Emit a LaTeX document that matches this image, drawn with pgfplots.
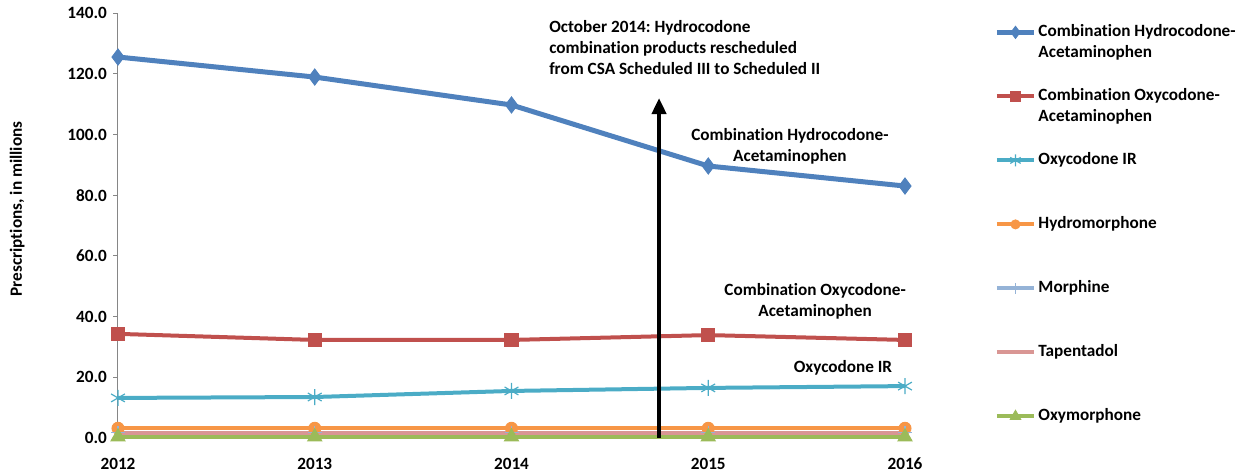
\documentclass[border=0pt]{standalone}
\usepackage{fontspec}
\setmainfont{Carlito}[Ligatures=NoCommon]
\usepackage{pgfplots}
\pgfplotsset{compat=1.18}
\usetikzlibrary{arrows.meta}
\definecolor{cBlue}{HTML}{4F81BD}
\definecolor{cRed}{HTML}{C0504D}
\definecolor{cTeal}{HTML}{4BACC6}
\definecolor{cOrange}{HTML}{F79646}
\definecolor{cMorph}{HTML}{95B3D7}
\definecolor{cTap}{HTML}{D99694}
\definecolor{cGreen}{HTML}{9BBB59}
\definecolor{cAxis}{HTML}{868686}
\newcommand{\legtxt}[1]{\parbox[t]{100pt}{#1}}
\frenchspacing
\begin{document}
\fontsize{8.6}{10.5}\selectfont\bfseries
\begin{tikzpicture}
\useasboundingbox (-59pt,-17pt) rectangle (560.5pt,219pt);
\begin{axis}[
  at={(0,0)}, anchor=south west,
  scale only axis, width=393.5pt, height=212.5pt,
  xmin=2012, xmax=2016, ymin=0, ymax=140,
  xtick={2012,2013,2014,2015,2016},
  xticklabels={2012,2013,2014,2015,2016},
  ytick={0,20,40,60,80,100,120,140},
  axis lines*=left,
  axis line style={cAxis, line width=0.5pt},
  x tick style={draw=none},
  y tick style={cAxis, line width=0.5pt},
  tick align=outside,
  major tick length=2.5pt,
  yticklabel style={/pgf/number format/.cd, fixed, fixed zerofill, precision=1, assume math mode=true},
  xticklabel style={yshift=-4.5pt},
  ticklabel style={font=\fontsize{8.6}{10.5}\selectfont\bfseries},
  ylabel={Prescriptions, in millions},
  ylabel style={at={(axis description cs:-0.128,0.539)}, anchor=center, font=\fontsize{8.6}{10.5}\selectfont\bfseries},
  clip=false,
  legend image code/.code={\draw[mark repeat=2, mark phase=2, #1] plot coordinates {(0pt,0pt) (9.25pt,0pt) (18.5pt,0pt)};},
  legend image post style={/tikz/every mark/.append style={scale=0.75}},
  legend style={at={(axis description cs:1.1132,1.0306)}, anchor=north west, draw=none, fill=none,
    inner sep=0pt, row sep=0pt, column sep=0pt,
    nodes={inner xsep=1pt, inner ysep=1pt, text height=17.2pt, text depth=12.8pt},
    font=\fontsize{8.6}{10.5}\selectfont\bfseries},
  legend cell align=left,
]
\addplot[cBlue, line width=2.5pt, mark=diamond*, mark size=4pt, mark options={solid, line width=0.5pt}]
  coordinates {(2012,125.5)(2013,118.9)(2014,109.7)(2015,89.6)(2016,83.0)};
\addlegendentry{\legtxt{Combination Hydrocodone-\\Acetaminophen}}
\addplot[cRed, line width=2pt, mark=square*, mark size=3.3pt, mark options={solid, line width=0.5pt}]
  coordinates {(2012,34.3)(2013,32.3)(2014,32.3)(2015,33.9)(2016,32.3)};
\addlegendentry{\legtxt{Combination Oxycodone-\\Acetaminophen}}
\addplot[cTeal, line width=2pt, mark=asterisk, mark size=4pt, mark options={solid, line width=0.6pt}]
  coordinates {(2012,13.2)(2013,13.5)(2014,15.5)(2015,16.5)(2016,17.1)};
\addlegendentry{\legtxt{Oxycodone IR}}
\addplot[cOrange, line width=2pt, mark=*, mark size=3pt, mark options={solid, line width=0.5pt}]
  coordinates {(2012,3.2)(2013,3.2)(2014,3.2)(2015,3.2)(2016,3.2)};
\addlegendentry{\legtxt{Hydromorphone}}
\addplot[cMorph, line width=2pt, mark=+, mark size=3.5pt, mark options={solid, line width=0.6pt}]
  coordinates {(2012,1.7)(2013,1.7)(2014,1.7)(2015,1.7)(2016,1.7)};
\addlegendentry{\legtxt{Morphine}}
\addplot[cTap, line width=2pt, no markers]
  coordinates {(2012,1.5)(2013,1.5)(2014,1.5)(2015,1.5)(2016,1.5)};
\addlegendentry{\legtxt{Tapentadol}}
\addplot[cGreen, line width=2pt, mark=triangle*, mark size=4pt, mark options={solid, line width=0.5pt}]
  coordinates {(2012,0.4)(2013,0.4)(2014,0.4)(2015,0.4)(2016,0.4)};
\addlegendentry{\legtxt{Oxymorphone}}
\draw[black, line width=2pt, -{Triangle[width=7pt,length=8pt]}] (axis cs:2014.75,0) -- (axis cs:2014.75,112);
\node[anchor=north west, align=left, inner sep=0pt] at (axis cs:2014.19,137.7)
  {October 2014: Hydrocodone\\combination products rescheduled\\from CSA Scheduled III to Scheduled II};
\node[align=center, inner sep=0pt] at (axis cs:2015.415,96.0) {Combination Hydrocodone-\\Acetaminophen};
\node[align=center, inner sep=0pt] at (axis cs:2015.543,45.0) {Combination Oxycodone-\\Acetaminophen};
\node[inner sep=0pt] at (axis cs:2015.685,23.0) {Oxycodone IR};
\end{axis}
\end{tikzpicture}
\end{document}
